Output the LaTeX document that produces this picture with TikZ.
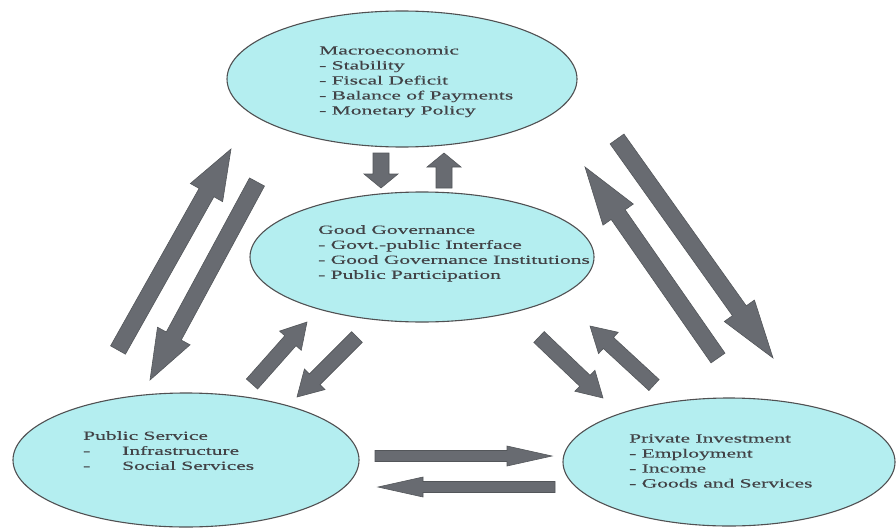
\documentclass[tikz,border=0pt]{standalone}
\usepackage{fontspec}
\usepackage{tikz}
\usetikzlibrary{shapes.geometric,calc}

\newfontfamily\wideserif[FakeStretch=1.72,FakeBold=0.3]{Liberation Serif}

\definecolor{aqua}{RGB}{180,238,240}
\definecolor{rim}{RGB}{80,80,82}
\definecolor{slate}{RGB}{104,107,113}
\definecolor{ink}{RGB}{66,66,70}

% block arrow: tail, tip, half shaft, half head, head length
\newcommand{\fatarrow}[5]{%
  \path ($(#2)!#5!(#1)$) coordinate (hb);
  \filldraw[fat] ($(#1)!#3!90:(#2)$) -- ($(hb)!#3!-90:(#1)$)
    -- ($(hb)!#4!-90:(#1)$) -- (#2) -- ($(hb)!#4!90:(#1)$)
    -- ($(hb)!#3!90:(#1)$) -- ($(#1)!#3!-90:(#2)$) -- cycle;
}

\begin{document}
\begin{tikzpicture}[x=1pt,y=-1pt,
    blob/.style={ellipse,draw=rim,fill=aqua,line width=1.1pt,inner sep=0pt},
    txt/.style={font=\wideserif\fontsize{12.5}{15}\selectfont,text=ink,
                align=left,inner sep=0pt,anchor=north west},
    fat/.style={fill=slate,draw=slate!80!black,line width=0.6pt,line join=miter}]

  \useasboundingbox (0,0) rectangle (896,527);

  % the four fields
  \node[blob,minimum width=350pt,minimum height=136pt] (macro) at (402,79)  {};
  \node[blob,minimum width=344pt,minimum height=130pt] (gg)    at (422,257) {};
  \node[blob,minimum width=346pt,minimum height=134pt] (ps)    at (186,460) {};
  \node[blob,minimum width=332pt,minimum height=128pt] (pi)    at (729,462) {};

  % arrow ends
  \coordinate (mgA) at (381,153);  \coordinate (mgB) at (381,188);
  \coordinate (gmA) at (444,188);  \coordinate (gmB) at (444,153);
  \coordinate (pmA) at (118,350);  \coordinate (pmB) at (231,149);
  \coordinate (mpA) at (257,182);  \coordinate (mpB) at (150,380);
  \coordinate (miA) at (617,139);  \coordinate (miB) at (773,358);
  \coordinate (imA) at (718,358);  \coordinate (imB) at (585,167);
  \coordinate (pgA) at (252,384);  \coordinate (pgB) at (307,322);
  \coordinate (gpA) at (357,337);  \coordinate (gpB) at (297,397);
  \coordinate (giA) at (539,337);  \coordinate (giB) at (603,398);
  \coordinate (igA) at (654,385);  \coordinate (igB) at (590,326);
  \coordinate (psA) at (375,456);  \coordinate (psB) at (552,456);
  \coordinate (spA) at (555,487);  \coordinate (spB) at (378,487);

  \fatarrow{mgA}{mgB}{8pt}{17pt}{14pt}
  \fatarrow{gmA}{gmB}{8pt}{17pt}{14pt}
  \fatarrow{pmA}{pmB}{8.5pt}{18.5pt}{50pt}
  \fatarrow{mpA}{mpB}{8.5pt}{18.5pt}{50pt}
  \fatarrow{miA}{miB}{8.5pt}{18.5pt}{58pt}
  \fatarrow{imA}{imB}{8.5pt}{18.5pt}{58pt}
  \fatarrow{pgA}{pgB}{7.5pt}{14.5pt}{25pt}
  \fatarrow{gpA}{gpB}{7.5pt}{14.5pt}{25pt}
  \fatarrow{giA}{giB}{7.5pt}{14.5pt}{25pt}
  \fatarrow{igA}{igB}{7.5pt}{14.5pt}{25pt}
  \fatarrow{psA}{psB}{5.5pt}{10pt}{45pt}
  \fatarrow{spA}{spB}{5.5pt}{10pt}{45pt}

  % texts
  \node[txt] (macrotxt) at (319,46)
    {Macroeconomic\\- Stability\\- Fiscal Deficit\\- Balance of Payments\\- Monetary Policy};
  \node[txt] (ggtxt) at (318,225)
    {Good Governance\\- Govt.-public Interface\\- Good Governance Institutions\\- Public Participation};
  \node[txt] (pstxt) at (83,431)
    {Public Service\\\makebox[39pt][l]{-}Infrastructure\\\makebox[39pt][l]{-}Social Services};
  \node[txt] (pitxt) at (629,434)
    {Private Investment\\- Employment\\- Income\\- Goods and Services};
\end{tikzpicture}
\end{document}
